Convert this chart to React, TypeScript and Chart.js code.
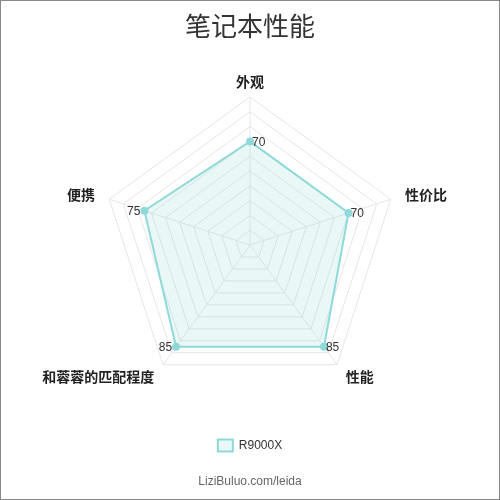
import React, { useEffect, useRef } from "react";
import { Chart, registerables } from "chart.js";

Chart.register(...registerables);

const categories = ["外观", "性价比", "性能", "和蓉蓉的匹配程度", "便携"];
const seriesName = "R9000X";
const seriesValues = [70, 70, 85, 85, 75];
const titleText = "笔记本性能";
const footerText = "LiziBuluo.com/leida";

const LINE = "rgb(143,217,217)";
const FILL = "rgba(143,217,217,0.2)";

const labelsPlugin = {
  id: "customLabels",
  afterDatasetsDraw(chart: any) {
    const ctx = chart.ctx;
    const scale = chart.scales.r;
    const meta = chart.getDatasetMeta(0);
    ctx.save();
    // category labels around the radar
    ctx.font = "bold 14px 'Noto Sans CJK SC', sans-serif";
    ctx.fillStyle = "#222";
    ctx.textBaseline = "middle";
    (chart.data.labels as string[]).forEach((lab: string, i: number) => {
      const p = scale.getPointPosition(i, scale.drawingArea + 15);
      const dx = p.x - scale.xCenter;
      ctx.textAlign = Math.abs(dx) < 3 ? "center" : dx > 0 ? "left" : "right";
      ctx.fillText(lab, p.x, p.y);
    });
    // value labels
    ctx.font = "12px 'Liberation Sans', Arial, sans-serif";
    ctx.fillStyle = "#333";
    meta.data.forEach((pt: any, i: number) => {
      const v = chart.data.datasets[0].data[i];
      const left = pt.x < scale.xCenter - 5;
      ctx.textAlign = left ? "right" : "left";
      ctx.fillText(String(v), left ? pt.x - 4 : pt.x + 2, pt.y + 1);
    });
    ctx.restore();
  },
};

export default function App() {
  const ref = useRef<HTMLCanvasElement>(null);
  useEffect(() => {
    document.body.style.margin = "0";
    const chart = new Chart(ref.current!, {
      type: "radar",
      data: {
        labels: categories,
        datasets: [
          {
            label: seriesName,
            data: seriesValues,
            borderColor: LINE,
            backgroundColor: FILL,
            borderWidth: 2,
            pointRadius: 3,
            pointBackgroundColor: LINE,
            pointBorderColor: LINE,
            fill: true,
          },
        ],
      },
      plugins: [labelsPlugin],
      options: {
        animation: false,
        responsive: false,
        maintainAspectRatio: false,
        layout: { padding: 0 },
        scales: {
          r: {
            min: 0,
            max: 100,
            ticks: { stepSize: 10, display: false },
            grid: { color: "#e6e6e6", lineWidth: 1 },
            angleLines: { color: "#e6e6e6" },
            pointLabels: { display: false },
          },
        },
        plugins: {
          title: {
            display: true,
            text: titleText,
            color: "#333",
            font: { size: 26, weight: "normal", family: "'Noto Sans CJK SC', sans-serif" },
            padding: { top: 10, bottom: 54.8 },
          },
          legend: {
            position: "bottom",
            labels: {
              color: "#333",
              boxWidth: 15,
              boxHeight: 12,
              padding: 46.6,
              font: { size: 12, family: "'Liberation Sans', Arial, sans-serif" },
            },
          },
          subtitle: {
            display: true,
            position: "bottom",
            text: footerText,
            color: "#666",
            font: { size: 12, family: "'Liberation Sans', Arial, sans-serif" },
            padding: { top: 13, bottom: 10 },
          },
          tooltip: { enabled: false },
        },
      },
    });
    return () => chart.destroy();
  }, []);
  return (
    <div
      style={{
        position: "absolute",
        left: 0,
        top: 0,
        width: 500,
        height: 500,
        boxSizing: "border-box",
        border: "1px solid #888",
        background: "#fff",
      }}
    >
      <canvas ref={ref} width={498} height={498} style={{ display: "block" }} />
    </div>
  );
}
